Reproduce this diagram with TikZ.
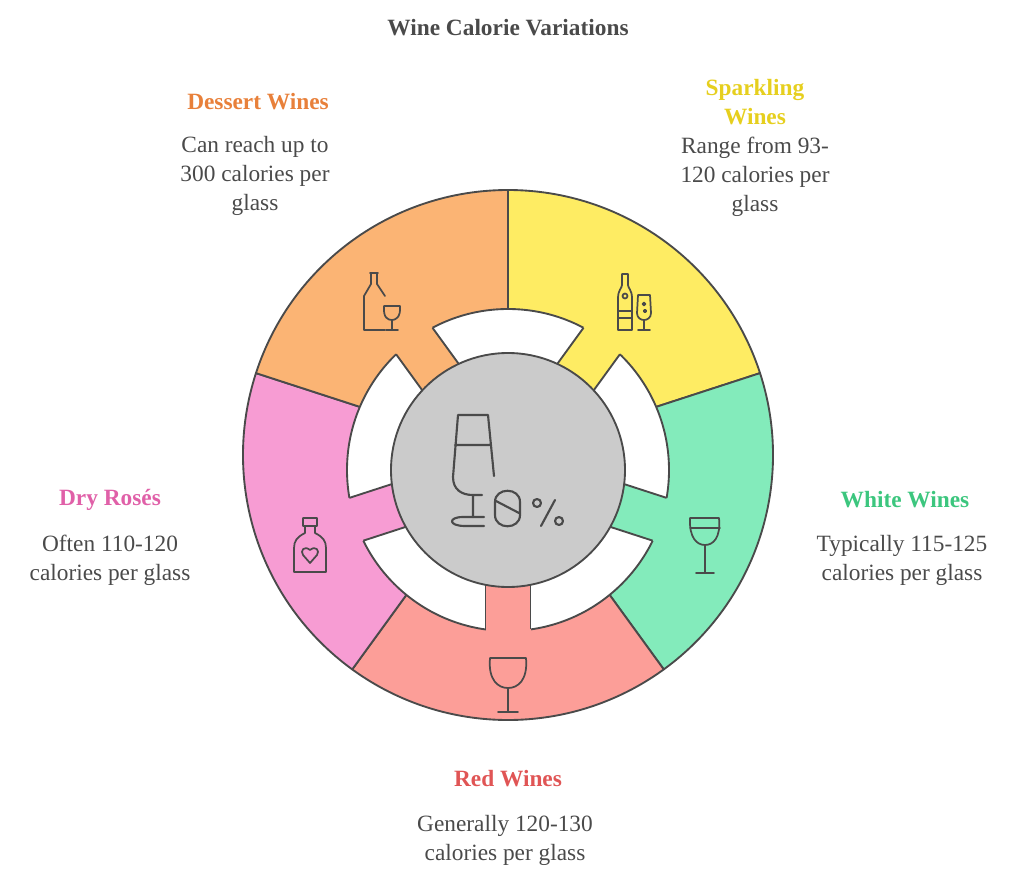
\documentclass[tikz,border=0pt]{standalone}
\usepackage{fontspec}
\setmainfont{Liberation Serif}
\begin{document}
\begin{tikzpicture}[x=0.75pt,y=-0.75pt,line join=round]
\definecolor{ink}{HTML}{4A4A4A}
\definecolor{cOr}{HTML}{FBB474}\definecolor{cYe}{HTML}{FEEC63}
\definecolor{cGr}{HTML}{83EBBB}\definecolor{cRe}{HTML}{FC9E98}
\definecolor{cPi}{HTML}{F79CD3}\definecolor{cGy}{HTML}{CBCBCB}
\definecolor{tOr}{HTML}{E8803A}\definecolor{tYe}{HTML}{E6CF1E}
\definecolor{tGr}{HTML}{3CC67E}\definecolor{tRe}{HTML}{E05555}
\definecolor{tPi}{HTML}{E060A8}
\tikzset{seg/.style={draw=ink,line width=1.4pt},
 ic/.style={draw=ink,line width=1.3pt,line cap=round},
 head/.style={font=\fontsize{17.5}{21.7}\selectfont\bfseries,align=center},
 body/.style={font=\fontsize{17.5}{21.7}\selectfont,text=ink,align=center}}
\useasboundingbox (0,0) rectangle (1024,885);
\coordinate (O) at (508,455);
\coordinate (I) at (508,470);
% outer segments
\foreach \a/\b/\c in {-90/-18/cYe,-18/54/cGr,54/126/cRe,126/198/cPi,198/270/cOr}
  \filldraw[seg,fill=\c] (O) -- ++(\a:265) arc(\a:\b:265) -- cycle;
% white ring
\filldraw[seg,fill=white] (I) circle (161);
\foreach \t/\c in {-54/cYe,18/cGr,90/cRe,162/cPi,234/cOr}{
 \begin{scope}[shift={(I)},rotate=-\t]
  \fill[\c] (105,-22.5) rectangle (175,22.5);
  \draw[seg] (114.8,-22.5) -- (159.4,-22.5) (114.8,22.5) -- (159.4,22.5);
 \end{scope}}
\filldraw[seg,fill=cGy] (I) circle (117);
% center icon
\draw[ic,line width=1.6pt] (458,415) -- (488,415) -- (494,476) (455,445) -- (491,445)
 (458,415) -- (453,477) .. controls (453,490) and (462,495) .. (473,495) -- (482,495)
 (473,495) -- (473,517);
\draw[ic,line width=1.6pt] (463,517) -- (484,517) (484,526) -- (465,526) .. controls (448,526) and (448,517) .. (463,517);
\draw[ic,line width=1.6pt] (495,502) .. controls (495,487) and (520,487) .. (520,502) -- (520,515) .. controls (520,530) and (495,530) .. (495,515) -- cycle (496,501) -- (519,513);
\draw[ic,line width=1.6pt] (537,503) circle (4) (559,521) circle (4) (555,500) -- (541,526);
% dessert icon
\draw[ic] (370,273) -- (378,273) (371,273) -- (371,284) -- (364,296) -- (364,330) -- (385,330) (377,273) -- (377,284) -- (385,296);
\draw[ic] (384,306) -- (400,306) .. controls (401,318) and (395,320) .. (392,320) .. controls (388,320) and (383,318) .. (384,306) (392,320) -- (392,330) (386,330) -- (398,330);
% sparkling icon
\draw[ic] (618,330) -- (618,298) .. controls (618,290) and (622,288) .. (622,285) -- (622,274) -- (628,274) -- (628,285) .. controls (628,288) and (632,290) .. (632,298) -- (632,330) -- cycle (618,311) -- (632,311) (618,318) -- (632,318) (625,296) circle (2.5);
\draw[ic] (638,295) -- (650,295) -- (651,313) .. controls (651,318) and (647,320) .. (644,320) .. controls (641,320) and (637,318) .. (637,313) -- cycle (644,320) -- (644,330) (638,330) -- (650,330) (644,304) circle (1.5) (645,311) circle (1.3);
% white icon
\draw[ic] (690,518) -- (719,518) .. controls (721,538) and (713,545) .. (705,545) .. controls (697,545) and (689,538) .. (690,518) (690,528) -- (720,528) (705,545) -- (705,573) (696,573) -- (714,573);
% red icon
\draw[ic] (490,658) -- (526,658) .. controls (528,680) and (518,688) .. (508,688) .. controls (498,688) and (488,680) .. (490,658) (508,688) -- (508,712) (498,712) -- (518,712);
% rose icon
\draw[ic] (303,518) rectangle (317,526) (305,526) -- (305,533) .. controls (297,537) and (294,541) .. (294,548) -- (294,572) -- (326,572) -- (326,548) .. controls (326,541) and (323,537) .. (315,533) -- (315,526);
\draw[ic] (310,563) -- (303,555) .. controls (300,551) and (304,545) .. (310,550) .. controls (316,545) and (320,551) .. (317,555) -- cycle;
% texts
\node[head,text=ink] (t) at (508,28) {Wine Calorie Variations};
\node[head,text=tOr] (h1) at (258,102) {Dessert Wines};
\node[body] (b1) at (255,176) {Can reach up to\\300 calories per\\glass};
\node[head,text=tYe] (h2) at (755,102) {Sparkling\\Wines};
\node[body] (b2) at (755,177) {Range from 93-\\120 calories per\\glass};
\node[head,text=tGr] (h3) at (905,500) {White Wines};
\node[body] (b3) at (902,560) {Typically 115-125\\calories per glass};
\node[head,text=tRe] (h4) at (508,779) {Red Wines};
\node[body] (b4) at (505,840) {Generally 120-130\\calories per glass};
\node[head,text=tPi] (h5) at (110,500) {Dry Rosés};
\node[body] (b5) at (110,560) {Often 110-120\\calories per glass};
\end{tikzpicture}
\end{document}
